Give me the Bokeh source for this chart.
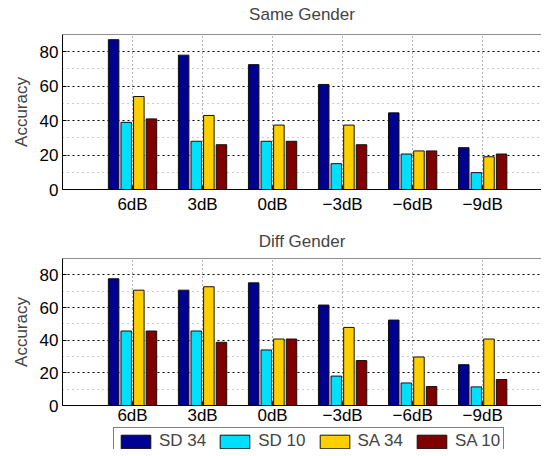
from bokeh.plotting import figure
from bokeh.models import ColumnDataSource, FixedTicker, Span, Legend, LegendItem, Range1d
from bokeh.layouts import column
from bokeh.embed import file_html
from bokeh.resources import INLINE

categories = ["6dB", "3dB", "0dB", "\u22123dB", "\u22126dB", "\u22129dB"]
series = ["SD 34", "SD 10", "SA 34", "SA 10"]
colors = ["#000090", "#00DFFF", "#FFCF00", "#800000"]

same_sd34 = [87, 78, 72.5, 61, 44.5, 24.3]
same_sd10 = [39, 28, 28, 15, 20.6, 9.8]
same_sa34 = [54, 43, 37.4, 37.4, 22.4, 19]
same_sa10 = [41, 26, 28, 26, 22.4, 20.6]

diff_sd34 = [77.6, 70.6, 75.1, 61.5, 52.3, 25]
diff_sd10 = [45.6, 45.6, 34, 18, 13.8, 11.4]
diff_sa34 = [70.6, 72.7, 40.7, 47.8, 29.7, 40.7]
diff_sa10 = [45.6, 38.7, 40.7, 27.5, 11.6, 15.9]

y_ticks = [0, 20, 40, 60, 80]
y_minor = [10, 30, 50, 70]

FONT = "Liberation Sans"
FS = "17px"
OFFSETS = [-0.27, -0.09, 0.09, 0.27]
XS = list(range(1, len(categories) + 1))


def add_bars(p, data, visible=True):
    rends = []
    for vals, off, col in zip(data, OFFSETS, colors):
        src = ColumnDataSource(dict(x=[x + off for x in XS], top=vals))
        r = p.vbar(x="x", top="top", bottom=0, width=0.15, source=src,
                   fill_color=col, line_color="#111111", line_width=1, visible=visible)
        rends.append(r)
    return rends


def make_panel(title, data, frame_h, margin_top, title_standoff, label_standoff):
    p = figure(frame_width=479, frame_height=frame_h, output_backend="svg", toolbar_location=None,
               x_range=Range1d(0, 6.84), y_range=Range1d(0, 90),
               min_border_left=0, min_border_right=0, min_border_top=0, min_border_bottom=0,
               margin=(margin_top, 0, 0, 8), title=title)
    add_bars(p, data)

    p.outline_line_color = None
    p.add_layout(Span(location=90, dimension="width", line_color="#222222", line_width=1))

    p.title.align = "center"
    p.title.text_font = FONT
    p.title.text_font_size = FS
    p.title.text_font_style = "normal"
    p.title.standoff = title_standoff

    p.xaxis.ticker = FixedTicker(ticks=XS)
    p.xaxis.major_label_overrides = {x: c for x, c in zip(XS, categories)}
    p.yaxis.ticker = FixedTicker(ticks=y_ticks, minor_ticks=y_minor)
    p.yaxis.axis_label = "Accuracy"
    for ax in (p.xaxis, p.yaxis):
        ax.axis_line_color = "black"
        ax.axis_line_width = 1
        ax.major_tick_in = 4
        ax.major_tick_out = 0
        ax.minor_tick_in = 0
        ax.minor_tick_out = 0
        ax.major_tick_line_color = "black"
        ax.major_label_text_font = FONT
        ax.major_label_text_font_size = FS
        ax.major_label_text_color = "black"
        ax.axis_label_text_font = FONT
        ax.axis_label_text_font_size = FS
        ax.axis_label_text_font_style = "normal"
    p.xaxis.major_label_standoff = label_standoff
    p.yaxis.major_label_standoff = 4
    p.yaxis.axis_label_standoff = 6

    p.xgrid.grid_line_color = "#666666"
    p.xgrid.grid_line_dash = "1 3"
    p.ygrid.grid_line_color = "black"
    p.ygrid.grid_line_dash = "2 3"
    p.ygrid.minor_grid_line_color = "#999999"
    p.ygrid.minor_grid_line_dash = "1 4"
    return p


p1 = make_panel("Same Gender", [same_sd34, same_sd10, same_sa34, same_sa10], 155, -9, 22, 5)
p2 = make_panel("Diff Gender", [diff_sd34, diff_sd10, diff_sa34, diff_sa10], 147, 6, 15, 0)

# legend strip (its lower edge is cut off like in the reference)
p3 = figure(frame_width=479, frame_height=22, output_backend="svg", toolbar_location=None,
            x_axis_location=None, y_axis_location=None,
            min_border_left=0, min_border_right=0, min_border_top=0, min_border_bottom=0,
            margin=(0, 0, 0, 62), x_range=Range1d(0, 6.84), y_range=Range1d(0, 90))
p3.outline_line_color = None
p3.xgrid.visible = False
p3.ygrid.visible = False
rends = add_bars(p3, [diff_sd34, diff_sd10, diff_sa34, diff_sa10], visible=False)
items = [LegendItem(label=name, renderers=[r]) for name, r in zip(series, rends)]
legend = Legend(items=items, orientation="horizontal", location=(51, -6),
                glyph_width=37, glyph_height=17, label_standoff=5, spacing=10,
                padding=3, margin=0, border_line_color="black",
                label_text_font=FONT, label_text_font_size=FS)
p3.add_layout(legend)

layout = column(p1, p2, p3)
open("out.html", "w").write(file_html(layout, INLINE))
